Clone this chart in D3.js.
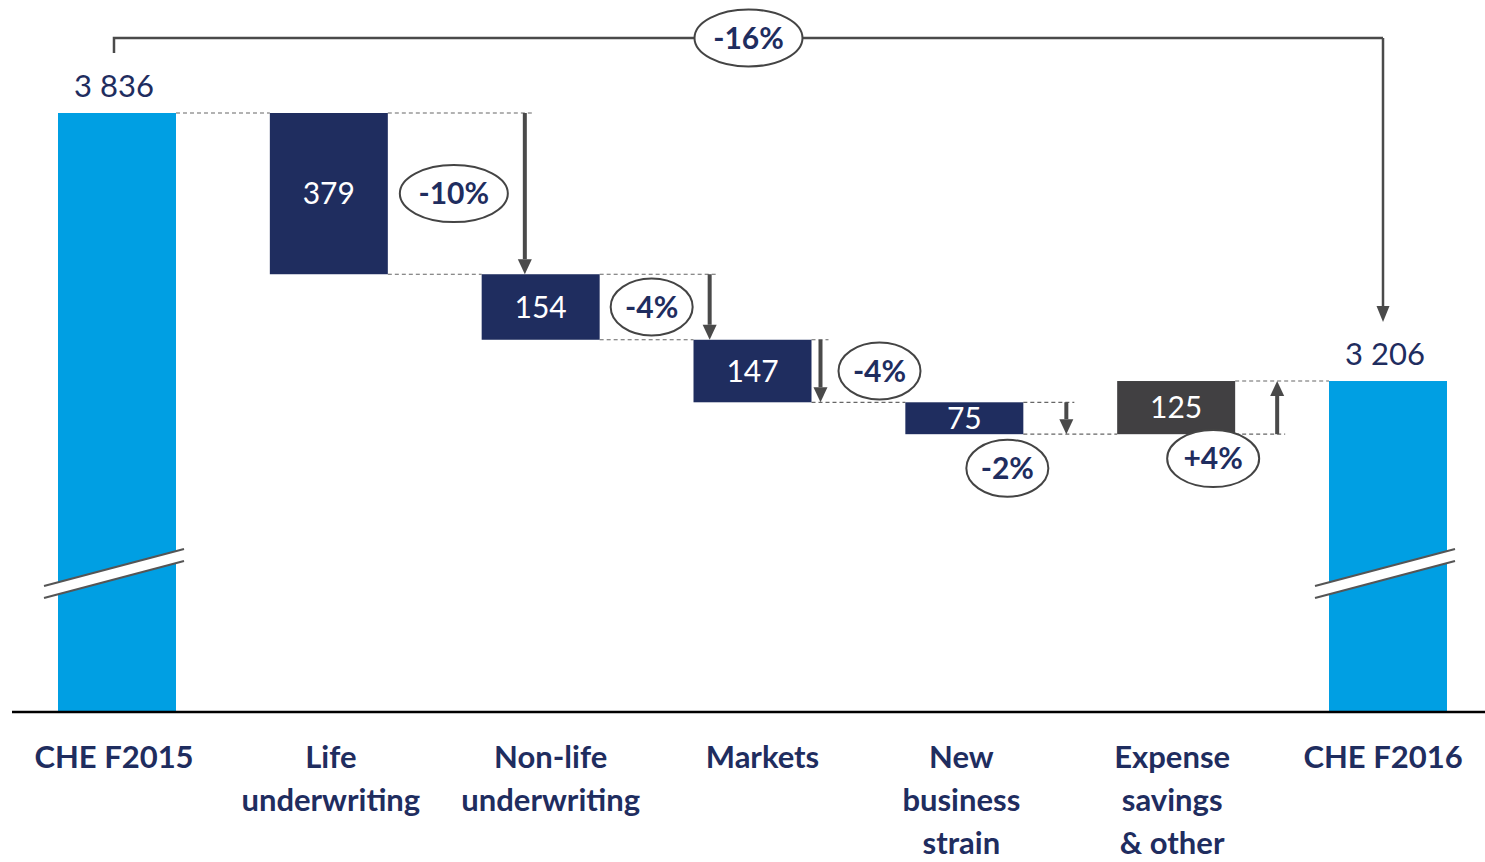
<!DOCTYPE html>
<html>
<head>
<meta charset="utf-8">
<script src="https://cdn.jsdelivr.net/npm/d3@7/dist/d3.min.js"></script>
<style>
  html, body { margin: 0; padding: 0; background: #fff; }
  svg { display: block; font-family: Lato, "Open Sans", sans-serif; }
</style>
</head>
<body>
<div id="chart"></div>
<script>
// 数据
const categories = ["CHE F2015", "Life underwriting", "Non-life underwriting", "Markets",
                    "New business strain", "Expense savings & other", "CHE F2016"];
const labelLines = [["CHE F2015"], ["Life", "underwriting"], ["Non-life", "underwriting"], ["Markets"],
                    ["New", "business", "strain"], ["Expense", "savings", "& other"], ["CHE F2016"]];
const values = [3836, -379, -154, -147, -75, 125, 3206];
const valueLabels = ["3 836", "379", "154", "147", "75", "125", "3 206"];
const pctLabels = [null, "-10%", "-4%", "-4%", "-2%", "+4%", null];
const totalPct = "-16%";

// 标注位置（相对柱子）
const arrowOffset = [0, 137, 110, 9, 43, 42, 0];
const bubbleOffset = [null, [125, 0, 54], [111, 0, 41], [127, 0, 41], [43, 50, 41], [37, 51, 46], null];
const labelDx = [-3, 2, 10, 10, -3, -4, -5];

const width = 1485, height = 862;
const navy = "#1f2d5f", blue = "#009fe3", grey = "#414042", arrowCol = "#4a4a4a";

const svg = d3.select("#chart").append("svg")
    .attr("width", width).attr("height", height);

const x = d3.scaleBand().domain(categories).range([58, 1447]).paddingInner(0.443).paddingOuter(0);
const y = d3.scaleLinear().domain([2428, 3836]).range([712, 113]);
const bw = x.bandwidth();

// 瀑布累计
let run = 0;
const bars = values.map((v, i) => {
    let start, end, type;
    if (i === 0 || i === values.length - 1) {
        start = 2428; end = v; type = "total"; run = v;
    } else {
        start = run; end = run + v; run = end; type = v < 0 ? "neg" : "pos";
    }
    return { cat: categories[i], v, start, end, type, i };
});

// 虚线连接
const dash = svg.append("g").attr("stroke", "#666").attr("stroke-width", 1.2)
    .attr("stroke-dasharray", "4,3").attr("fill", "none");
bars.forEach((b, i) => {
    const xr = x(b.cat) + bw;
    if (i < bars.length - 1) {
        const yl = y(b.end);
        dash.append("line").attr("x1", xr).attr("x2", x(bars[i + 1].cat))
            .attr("y1", yl).attr("y2", yl);
    }
    if (b.type !== "total") {
        const ys = y(b.start);
        dash.append("line").attr("x1", xr).attr("x2", xr + arrowOffset[i] + 8)
            .attr("y1", ys).attr("y2", ys);
    }
});

// 柱子
svg.append("g").selectAll("rect").data(bars).join("rect")
    .attr("x", d => x(d.cat))
    .attr("width", bw)
    .attr("y", d => y(Math.max(d.start, d.end)))
    .attr("height", d => Math.abs(y(d.start) - y(d.end)))
    .attr("fill", d => d.type === "total" ? blue : d.type === "neg" ? navy : grey);

// 柱内数值
svg.append("g").selectAll("text").data(bars.filter(d => d.type !== "total")).join("text")
    .attr("x", d => x(d.cat) + bw / 2)
    .attr("y", d => (y(d.start) + y(d.end)) / 2)
    .attr("dy", "0.36em")
    .attr("text-anchor", "middle")
    .attr("fill", "#fff")
    .attr("font-size", 30)
    .text(d => valueLabels[d.i]);

// 总额数值
svg.append("g").selectAll("text").data(bars.filter(d => d.type === "total")).join("text")
    .attr("x", d => x(d.cat) + bw / 2 - 3)
    .attr("y", d => y(d.end) - 16)
    .attr("text-anchor", "middle")
    .attr("fill", navy)
    .attr("font-size", 31)
    .text(d => valueLabels[d.i]);

// 断轴标记
bars.filter(d => d.type === "total").forEach(d => {
    const x0 = x(d.cat) - 14, x1 = x(d.cat) + bw + 8;
    const g = svg.append("g");
    g.append("path")
        .attr("d", `M${x0},586 L${x1},549 L${x1},561 L${x0},598 Z`)
        .attr("fill", "#fff");
    [0, 12].forEach(o => g.append("line")
        .attr("x1", x0).attr("y1", 586 + o).attr("x2", x1).attr("y2", 549 + o)
        .attr("stroke", "#555").attr("stroke-width", 2));
});

// 箭头
function arrow(g, ax, y1, y2, w, headW, headL) {
    const dir = y2 > y1 ? 1 : -1;
    g.append("line").attr("x1", ax).attr("x2", ax).attr("y1", y1).attr("y2", y2 - dir * headL)
        .attr("stroke", arrowCol).attr("stroke-width", w);
    g.append("path")
        .attr("d", `M${ax - headW / 2},${y2 - dir * headL} L${ax + headW / 2},${y2 - dir * headL} L${ax},${y2} Z`)
        .attr("fill", arrowCol);
}
const arrows = svg.append("g");
bars.filter(d => d.type !== "total").forEach(d => {
    arrow(arrows, x(d.cat) + bw + arrowOffset[d.i], y(d.start), y(d.end), 4, 14, 15);
});

// 百分比气泡
function bubble(cx, cy, rx, label) {
    const g = svg.append("g");
    g.append("ellipse").attr("cx", cx).attr("cy", cy).attr("rx", rx).attr("ry", 28.5)
        .attr("fill", "#fff").attr("stroke", "#444").attr("stroke-width", 2);
    g.append("text").attr("x", cx).attr("y", cy).attr("dy", "0.36em")
        .attr("text-anchor", "middle").attr("fill", navy)
        .attr("font-size", 30).attr("font-weight", "bold")
        .text(label);
}
bars.filter(d => d.type !== "total").forEach(d => {
    const o = bubbleOffset[d.i];
    bubble(x(d.cat) + bw / 2 + o[0], (y(d.start) + y(d.end)) / 2 + o[1], o[2], pctLabels[d.i]);
});

// 顶部总变化括线
const xa = x(categories[0]) + bw / 2 - 3, xb = x(categories[6]) + bw / 2 - 5;
const topY = 38;
svg.append("path")
    .attr("d", `M${xa},${y(values[0]) - 60} L${xa},${topY} L${xb},${topY}`)
    .attr("fill", "none").attr("stroke", arrowCol).attr("stroke-width", 2.5);
arrow(svg.append("g"), xb, topY, y(values[6]) - 59, 2.5, 13, 16);
bubble((xa + xb) / 2, topY, 54, totalPct);

// 横轴
svg.append("line").attr("x1", 12).attr("x2", 1485).attr("y1", 712).attr("y2", 712)
    .attr("stroke", "#000").attr("stroke-width", 2.5);

// 类别标签
const lab = svg.append("g").attr("fill", navy).attr("font-size", 31).attr("font-weight", "bold")
    .attr("text-anchor", "middle");
categories.forEach((c, i) => {
    const cx = x(c) + bw / 2 + labelDx[i];
    const t = lab.append("text").attr("x", cx).attr("y", 768);
    labelLines[i].forEach((ln, j) => {
        t.append("tspan").attr("x", cx).attr("y", 768 + j * 43).text(ln);
    });
});
</script>
</body>
</html>
